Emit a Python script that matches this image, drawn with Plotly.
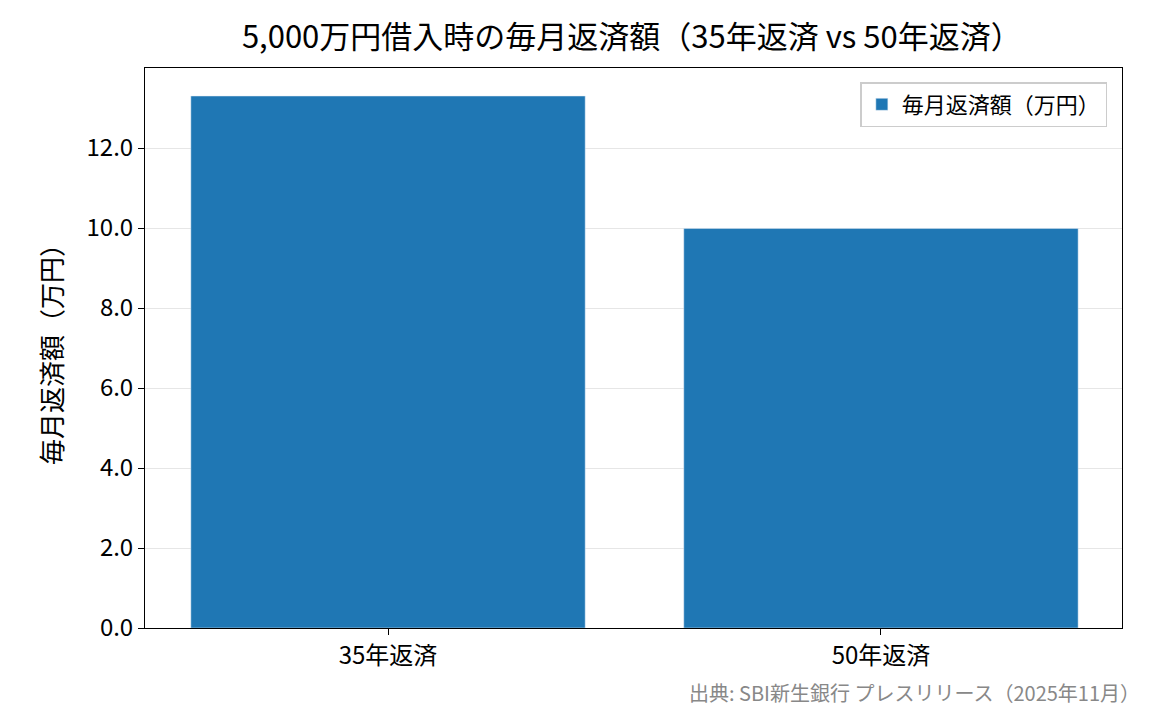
import plotly.graph_objects as go

categories = ["35年返済", "50年返済"]
monthly_payment = [13.3, 9.99]
tick_vals = [0, 2, 4, 6, 8, 10, 12]
tick_text = ["0.0", "2.0", "4.0", "6.0", "8.0", "10.0", "12.0"]

font = "Noto Sans CJK JP"

fig = go.Figure()
fig.add_trace(go.Bar(x=categories, y=monthly_payment, name="毎月返済額（万円）",
                     marker_color="#1f77b4", width=0.8, showlegend=True))

fig.update_layout(
    width=1166, height=725,
    margin=dict(l=137, r=52, t=60, b=105),
    paper_bgcolor="white", plot_bgcolor="white",
    font=dict(family=font, size=24, color="black"),
    title=dict(text="5,000万円借入時の毎月返済額（35年返済 vs 50年返済）",
               x=0.535, xanchor="center", y=0.96, yanchor="middle",
               font=dict(size=31, family=font)),
    legend=dict(x=0.985, y=0.975, xanchor="right", yanchor="top",
                bordercolor="#cccccc", borderwidth=1.5, bgcolor="white",
                font=dict(size=22)),
    xaxis=dict(range=[-0.493, 1.489], showline=True, linecolor="black", mirror=True,
               ticks="outside", ticklen=6, tickcolor="black"),
    yaxis=dict(range=[0, 14], tickvals=tick_vals, ticktext=tick_text,
               showline=True, linecolor="black", mirror=True,
               ticks="outside", ticklen=6, tickcolor="black",
               showgrid=True, gridcolor="#e6e6e6",
               title=dict(text="毎月返済額（万円）", font=dict(size=26), standoff=16)),
)
fig.add_annotation(text="出典: SBI新生銀行 プレスリリース（2025年11月）",
                   xref="paper", yref="paper", x=1.02, y=-0.116,
                   xanchor="right", yanchor="middle", showarrow=False,
                   font=dict(size=20, color="#888888"))

fig.write_html("out.html")
